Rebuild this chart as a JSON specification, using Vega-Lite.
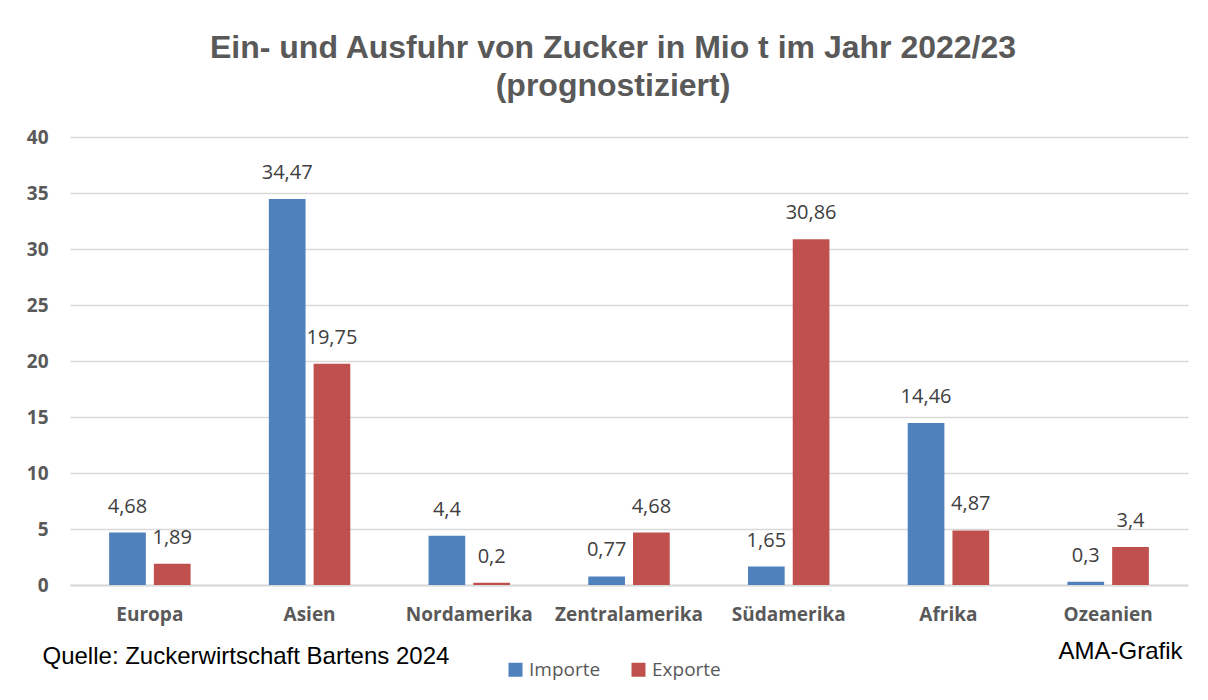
{
  "$schema": "https://vega.github.io/schema/vega-lite/v6.json",
  "width": 1118,
  "height": 448,
  "autosize": {"type": "none"},
  "padding": {"left": 70, "top": 137, "right": 20, "bottom": 115},
  "background": "white",
  "title": {
    "text": ["Ein- und Ausfuhr von Zucker in Mio t im Jahr 2022/23", "(prognostiziert)"],
    "font": "Liberation Sans",
    "fontSize": 32,
    "fontWeight": "bold",
    "color": "#595959",
    "lineHeight": 38,
    "offset": 25,
    "dx": -16,
    "anchor": "middle"
  },
  "config": {
    "locale": {"number": {"decimal": ",", "thousands": ".", "grouping": [3], "currency": ["", " €"]}},
    "view": {"stroke": null}
  },
  "data": {
    "values": [
      {"region": "Europa", "typ": "Importe", "wert": 4.68},
      {"region": "Europa", "typ": "Exporte", "wert": 1.89},
      {"region": "Asien", "typ": "Importe", "wert": 34.47},
      {"region": "Asien", "typ": "Exporte", "wert": 19.75},
      {"region": "Nordamerika", "typ": "Importe", "wert": 4.4},
      {"region": "Nordamerika", "typ": "Exporte", "wert": 0.2},
      {"region": "Zentralamerika", "typ": "Importe", "wert": 0.77},
      {"region": "Zentralamerika", "typ": "Exporte", "wert": 4.68},
      {"region": "Südamerika", "typ": "Importe", "wert": 1.65},
      {"region": "Südamerika", "typ": "Exporte", "wert": 30.86},
      {"region": "Afrika", "typ": "Importe", "wert": 14.46},
      {"region": "Afrika", "typ": "Exporte", "wert": 4.87},
      {"region": "Ozeanien", "typ": "Importe", "wert": 0.3},
      {"region": "Ozeanien", "typ": "Exporte", "wert": 3.4}
    ]
  },
  "encoding": {
    "x": {
      "field": "region",
      "type": "nominal",
      "sort": null,
      "scale": {"paddingInner": 0.49, "paddingOuter": 0.245},
      "axis": {
        "labelAngle": 0,
        "labelFont": "Open Sans",
        "labelFontWeight": "bold",
        "labelFontSize": 19,
        "labelColor": "#595959",
        "labelPadding": 20,
        "ticks": false,
        "grid": false,
        "domainColor": "#d9d9d9",
        "domainWidth": 2,
        "title": "Quelle: Zuckerwirtschaft Bartens 2024",
        "titleFont": "Liberation Sans",
        "titleFontSize": 24,
        "titleFontWeight": "normal",
        "titleColor": "#000000",
        "titleAlign": "left",
        "titleAnchor": "start",
        "titleBaseline": "alphabetic",
        "titleX": -28,
        "titleY": 78
      }
    },
    "xOffset": {
      "field": "typ",
      "type": "nominal",
      "sort": ["Importe", "Exporte"],
      "scale": {"paddingInner": 0.18, "paddingOuter": 0}
    },
    "y": {
      "field": "wert",
      "type": "quantitative",
      "scale": {"domain": [0, 40]}
    }
  },
  "layer": [
    {
      "mark": {"type": "bar"},
      "encoding": {
        "y": {
          "field": "wert",
          "type": "quantitative",
          "scale": {"domain": [0, 40]},
          "axis": {
            "values": [0, 5, 10, 15, 20, 25, 30, 35, 40],
            "labelFont": "Open Sans",
            "labelFontWeight": "bold",
            "labelFontSize": 19,
            "labelColor": "#595959",
            "labelPadding": 22,
            "ticks": false,
            "domain": false,
            "gridColor": "#d9d9d9",
            "gridWidth": 1.5,
            "title": null
          }
        },
        "color": {
          "field": "typ",
          "type": "nominal",
          "sort": ["Importe", "Exporte"],
          "scale": {"domain": ["Importe", "Exporte"], "range": ["#4F81BD", "#C0504D"]},
          "legend": {
            "title": null,
            "orient": "none",
            "direction": "horizontal",
            "legendX": 436,
            "legendY": 523,
            "symbolType": "square",
            "symbolSize": 196,
            "symbolStrokeWidth": 0,
            "labelFont": "Open Sans",
            "labelFontSize": 19,
            "labelColor": "#595959",
            "labelOffset": 4,
            "columnPadding": 28
          }
        }
      }
    },
    {
      "mark": {"type": "text", "font": "Open Sans", "fontSize": 20, "color": "#404040", "baseline": "alphabetic", "dy": -20},
      "encoding": {
        "y": {
          "field": "wert",
          "type": "quantitative",
          "scale": {"domain": [0, 40]},
          "axis": {
            "orient": "right",
            "labels": false,
            "ticks": false,
            "domain": false,
            "grid": false,
            "title": "AMA-Grafik",
            "titleFont": "Liberation Sans",
            "titleFontSize": 24,
            "titleFontWeight": "normal",
            "titleColor": "#000000",
            "titleAngle": 0,
            "titleAlign": "right",
            "titleBaseline": "alphabetic",
            "titleX": -6,
            "titleY": 521
          }
        },
        "text": {"field": "wert", "type": "quantitative", "format": "~g"}
      }
    }
  ],
  "resolve": {"axis": {"y": "independent"}}
}
